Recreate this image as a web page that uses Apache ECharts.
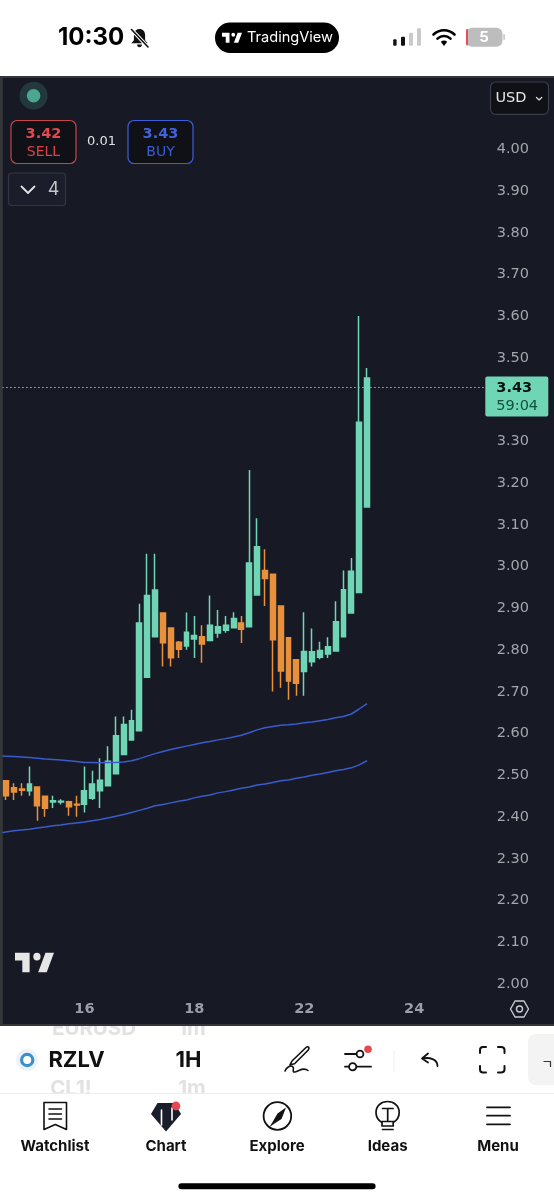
<!DOCTYPE html>
<html>
<head>
<meta charset="utf-8">
<style>html,body{margin:0;padding:0;background:#fff}#main{width:554px;height:1200px}</style>
<script src="https://cdn.jsdelivr.net/npm/echarts@6/dist/echarts.min.js"></script>
</head>
<body>
<div id="main"></div>
<script>
// hourly candles, slot 0 is the one cut off at the left edge (only the averages show)
var open = ['-',2.487,2.470,2.467,2.463,2.472,2.450,2.436,2.436,2.437,2.431,2.431,2.445,2.463,2.475,2.504,2.550,2.585,2.607,2.735,2.832,2.889,2.853,2.819,2.810,2.827,2.832,2.823,2.841,2.848,2.854,2.865,2.856,2.932,2.991,2.982,2.906,2.830,2.777,2.749,2.772,2.783,2.791,2.798,2.832,2.889,2.938,3.143];
var close = ['-',2.451,2.460,2.464,2.479,2.427,2.421,2.439,2.438,2.425,2.429,2.463,2.479,2.488,2.534,2.595,2.622,2.631,2.865,2.931,2.944,2.818,2.782,2.802,2.843,2.835,2.815,2.860,2.856,2.860,2.876,2.850,3.009,3.048,2.972,2.825,2.750,2.726,2.721,2.797,2.796,2.799,2.808,2.868,2.945,2.989,3.346,3.452];
var low = ['-',2.441,2.441,2.451,2.451,2.391,2.401,2.422,2.430,2.403,2.401,2.411,2.441,2.422,2.475,2.504,2.550,2.585,2.607,2.735,2.832,2.761,2.761,2.781,2.801,2.781,2.770,2.823,2.830,2.842,2.854,2.817,2.856,2.932,2.906,2.701,2.710,2.681,2.691,2.691,2.761,2.778,2.781,2.798,2.832,2.889,2.938,3.143];
var high = ['-',2.487,2.481,2.481,2.521,2.472,2.450,2.451,2.443,2.439,2.451,2.521,2.511,2.541,2.570,2.641,2.641,2.657,2.911,3.031,3.031,2.889,2.853,2.822,2.890,2.882,2.860,2.931,2.896,2.882,2.891,2.882,3.232,3.116,3.042,2.982,2.906,2.830,2.777,2.891,2.852,2.820,2.831,2.917,2.991,3.021,3.601,3.476];
var maUpper = [2.547,2.546,2.545,2.544,2.543,2.541,2.539,2.538,2.537,2.535,2.533,2.531,2.531,2.530,2.531,2.531,2.532,2.535,2.540,2.546,2.552,2.557,2.562,2.566,2.570,2.574,2.578,2.581,2.585,2.588,2.592,2.596,2.602,2.609,2.614,2.617,2.620,2.621,2.623,2.626,2.628,2.631,2.634,2.638,2.641,2.647,2.659,2.672];
var maLower = [2.361,2.364,2.367,2.369,2.371,2.374,2.376,2.379,2.381,2.384,2.386,2.388,2.391,2.394,2.398,2.402,2.406,2.411,2.416,2.421,2.427,2.430,2.434,2.438,2.441,2.446,2.450,2.453,2.458,2.461,2.465,2.469,2.472,2.477,2.479,2.483,2.487,2.489,2.493,2.496,2.500,2.503,2.507,2.511,2.514,2.518,2.525,2.535];
var lastPrice = 3.43;
var countdown = '59:04';
var dateSlots = [11, 25, 39, 53];
var dateLabels = ['16', '18', '22', '24'];
var yTicks = ['2.00','2.10','2.20','2.30','2.40','2.50','2.60','2.70','2.80','2.90','3.00','3.10','3.20','3.30','3.50','3.60','3.70','3.80','3.90','4.00'];

var SLOTS = 63;
var categories = [];
for (var i = 0; i < SLOTS; i++) {
  var at = dateSlots.indexOf(i);
  categories.push(at >= 0 ? dateLabels[at] : ' ' + i);
}
var candles = open.map(function (o, i) { return [o, close[i], low[i], high[i]]; });

var GREEN = '#6fd5b5', ORANGE = '#e8903c', BLUE = '#3a5bcb', DARK = '#171a25', FONT = 'Inter', WIDE = '"DejaVu Sans"';

// the graphic component has no plain path type, so register each icon path as a shape
var shapeCount = 0;
function pathType(d) {
  var name = 'iconPath' + (shapeCount++);
  echarts.graphic.registerShape(name, echarts.graphic.extendPath(d));
  return name;
}

// little helpers for the phone app chrome around the chart
function rect(x, y, w, h, fill, r, stroke, z) {
  return { type: 'rect', z: z == null ? 10 : z, shape: { x: x, y: y, width: w, height: h, r: r || 0 },
    style: { fill: fill, stroke: stroke || null, lineWidth: stroke ? 1.2 : 0 } };
}
function txt(s, x, y, font, fill, z, family) {
  return { type: 'text', z: z == null ? 11 : z,
    style: { text: s, x: x, y: y, font: font + ' ' + (family || FONT), fill: fill, align: 'center', verticalAlign: 'middle' } };
}
function stroke(d, color, w, z) {
  return { type: pathType(d), z: z == null ? 11 : z,
    style: { fill: null, stroke: color, lineWidth: w || 1.8, lineCap: 'round', lineJoin: 'round' } };
}
function solid(d, color) {
  return { type: pathType(d), z: 11, style: { fill: color } };
}
function circle(cx, cy, r, fill, line, w) {
  return { type: 'circle', z: 11, shape: { cx: cx, cy: cy, r: r },
    style: { fill: fill, stroke: line || null, lineWidth: w || 0 } };
}
function logo(x, y, w, h, color) {
  // source path spans x 2..34, y 6..21
  var sx = w / 32, sy = h / 15;
  return { type: pathType('M14 6H2V12H8V21H14V6ZM28 21H21L27 6H34L28 21ZM20 12A3 3 0 1 0 20 6A3 3 0 0 0 20 12Z'), z: 11,
    x: x - 2 * sx, y: y - 6 * sy, scaleX: sx, scaleY: sy, style: { fill: color } };
}

var chrome = [
  // ghost rows behind the toolbar, cut off by the panel and the tab bar
  txt('EURUSD', 94, 1029, 'bold 20.5px', '#e2e2e2', -3),
  txt('1m', 192, 1029, 'bold 20.5px', '#e2e2e2', -3),
  txt('CL1!', 71, 1089, 'bold 20.5px', '#e2e2e2', -3),
  txt('1m', 192, 1089, 'bold 20.5px', '#e2e2e2', -3),
  // chart panel
  rect(0, 76, 554, 950, '#35363a', 0, null, -2),
  rect(2.5, 78, 551.5, 946, DARK, 0, null, -1),
  rect(0, 78, 2.5, 946, '#35363a', 0, null, 9),

  // status bar
  txt('10:30', 91, 38, 'bold 24px', '#000'),
  solid('M139.5 29c-3.4 0-5.6 2.6-5.6 6v5.2l-2.6 3.1h16.4l-2.6-3.1V35c0-3.4-2.2-6-5.6-6zM137 44.6h5c-.2 1.7-1.2 2.7-2.5 2.7s-2.3-1-2.5-2.7z', '#111'),
  stroke('M131 29l17 18', '#fff', 3.4),
  stroke('M131.5 29.5l16.5 17.5', '#111', 1.6),
  rect(215, 22.5, 124, 30.5, '#000', 15.2),
  logo(222, 32.7, 20, 10, '#fff'),
  txt('TradingView', 290, 38, '400 14.6px', '#fff'),
  rect(393.2, 39.3, 3.4, 6.4, '#111', 1),
  rect(401, 36.7, 4, 9, '#111', 1),
  rect(409, 32.7, 4, 13, '#c9c9c9', 1),
  rect(417, 28.3, 4, 17.4, '#c9c9c9', 1),
  stroke('M433.5 34.5c6-5.6 15-5.6 21 0', '#000', 2.6),
  stroke('M437.5 38.6c3.8-3.4 9.2-3.4 13 0', '#000', 2.6),
  solid('M440.8 41.8c2-1.6 4.4-1.6 6.4 0L444 46z', '#000'),
  rect(466, 27.8, 36.5, 19, '#bdbdbd', 6),
  rect(466, 29, 2, 16.5, '#e2505a', 1),
  rect(503.2, 34, 1.8, 6, '#c9c9c9', 1),
  txt('5', 484, 37.8, 'bold 15px', '#fff'),

  // top left of the panel
  circle(33.6, 95.7, 14, '#22383d'),
  circle(33.6, 95.7, 6.8, '#4aa78f'),
  rect(490.5, 82, 58, 32.3, '#101116', 5, '#3a3d46'),
  txt('USD', 511, 98, '14.5px', '#e6e6e6', 11, WIDE),
  stroke('M536.5 97.5l2.6 2.4 2.6-2.4', '#dcdcdc', 1.3),
  rect(11, 120.5, 65, 43, '#101116', 6, '#c4454c'),
  txt('3.42', 43.5, 134, 'bold 14.5px', '#e0494f', 11, WIDE),
  txt('SELL', 43.5, 152.5, '14px', '#d8444a', 11, WIDE),
  txt('0.01', 101.5, 142, '13px', '#dfe0e2', 11, WIDE),
  rect(128, 120.5, 65, 43, '#101116', 6, '#3a5fdc'),
  txt('3.43', 160.5, 134, 'bold 14.5px', '#3f63e0', 11, WIDE),
  txt('BUY', 160.5, 152.5, '14px', '#3a5bd4', 11, WIDE),
  rect(8.5, 173, 57, 32.5, '#1b1e2a', 3, '#33363f'),
  stroke('M21.5 186.5l6.5 6.5 6.5-6.5', '#e2e2e2', 1.8),
  txt('4', 53.6, 189.5, '18px', '#c4c5c8'),

  // bottom of the panel
  logo(15, 952.7, 39, 19.6, '#e6e6e6'),
  stroke('M510.5 1009l4.5-8h9l4.5 8-4.5 8h-9z', '#c9cbd1', 1.4),
  { type: 'circle', z: 11, shape: { cx: 519.5, cy: 1009, r: 3 }, style: { fill: null, stroke: '#c9cbd1', lineWidth: 1.4 } },

  // symbol toolbar
  circle(27.2, 1060, 11, '#ebf2f8'),
  circle(27.2, 1060, 5.6, '#fff', '#3b8ec6', 3.2),
  txt('RZLV', 76.5, 1060, 'bold 22px', '#111'),
  txt('1H', 188.5, 1060, 'bold 22px', '#111'),
  stroke('M292 1061l14-13.5c1.2-1.2 3-1 3 .6 0 1-.3 1.5-1 2.2l-13.5 13.5-4.5 1zM285 1071c1-3.5 6-6.5 8-4 1.5 2-1.5 5.5 2 5 4-.5 8-5.5 13-1.5', '#111', 1.6),
  stroke('M345 1054h11', '#111', 1.8),
  { type: 'circle', z: 11, shape: { cx: 360, cy: 1054, r: 3.4 }, style: { fill: '#fff', stroke: '#111', lineWidth: 1.8 } },
  stroke('M345 1066.7h4M356.5 1066.7H371', '#111', 1.8),
  { type: 'circle', z: 11, shape: { cx: 352.7, cy: 1066.7, r: 3.6 }, style: { fill: '#fff', stroke: '#111', lineWidth: 1.8 } },
  circle(368, 1049.3, 3.8, '#e5484e'),
  rect(393.6, 1050, 1, 22, '#eeeeee'),
  stroke('M428 1053.5l-6 5 6 4M422.5 1058.5c7-1.5 15 .5 15 7.5', '#111', 1.8),
  stroke('M480 1053v-3c0-2 1-3 3-3h3M498 1047h3c2 0 3.5 1 3.5 3v3M504.5 1066v3.5c0 2-1.5 3-3.5 3h-3M486 1072.5h-3c-2 0-3-1-3-3v-3.5', '#111', 2),
  rect(528, 1034, 40, 51, '#f3f3f4', 8),
  stroke('M544 1061.5h6.5v5', '#333', 1.2),

  // tab bar
  rect(0, 1093, 554, 107, '#fff', 0, null, -1),
  rect(0, 1093, 554, 1, '#efefef', 0, null, -1),
  stroke('M44 1102.5h22.5v27l-11.2-5-11.3 5zM49 1109h12.5M49 1114h12.5M49 1119h12.5', '#111', 1.6),
  txt('Watchlist', 55, 1146.5, 'bold 15px', '#111'),
  solid('M157.5 1103h17l6.5 11-15 17.5-15-17.5z', '#1a1d2a'),
  stroke('M161.5 1110v15M172 1108v12', '#fff', 1.6),
  rect(159.5, 1113, 4, 7, '#fff', 0),
  rect(170, 1111, 4, 5, '#fff', 0),
  circle(176, 1106, 4.4, '#e5484e'),
  txt('Chart', 166, 1146.5, 'bold 15px', '#111'),
  { type: 'circle', z: 11, shape: { cx: 277.4, cy: 1116, r: 13.8 }, style: { fill: null, stroke: '#111', lineWidth: 1.8 } },
  solid('M286 1107.5l-4.5 11.5-8.5 5.5-4 3 3-4.5 5.5-9.5z', '#111'),
  txt('Explore', 277, 1146.5, 'bold 15px', '#111'),
  stroke('M382 1122.5c-3.5-2-6-5.5-6-10 0-6.5 5-11 11.6-11s11.6 4.5 11.6 11c0 4.5-2.5 8-6 10v3.5h-11.2zM382.5 1129.5h10.5M382.5 1108.5h10.5M387.7 1108.5v13M382 1121.5h11.5', '#111', 1.7),
  txt('Ideas', 387.6, 1146.5, 'bold 15px', '#111'),
  stroke('M487 1107.3h23M487 1115.7h23M487 1124.3h23', '#111', 1.8),
  txt('Menu', 498, 1146.5, 'bold 15px', '#111'),
  rect(178.4, 1183.3, 197.2, 6, '#000', 3)
];

var myChart = echarts.init(document.getElementById('main'));
myChart.setOption({
  animation: false,
  backgroundColor: '#fff',
  textStyle: { fontFamily: FONT },
  grid: { left: -5.85, right: 65.3, top: 66, bottom: 174.3, outerBoundsMode: 'none' },
  xAxis: {
    type: 'category',
    data: categories,
    axisLine: { show: false },
    axisTick: { show: false },
    axisLabel: {
      inside: true, margin: 9, interval: 0, hideOverlap: false,
      color: '#9a9dab', fontSize: 14.5, fontWeight: 'bold', fontFamily: WIDE,
      formatter: function (v) { return dateLabels.indexOf(v) >= 0 ? v : ''; }
    }
  },
  yAxis: {
    type: 'value',
    position: 'right',
    min: 1.9, max: 4.2, interval: 0.1,
    splitLine: { show: false },
    axisLine: { show: false },
    axisTick: { show: false },
    axisLabel: {
      margin: 8, color: '#a3a5ab', fontSize: 14.5, fontFamily: WIDE, padding: [7, 0, 0, 0],
      formatter: function (v) { var s = v.toFixed(2); return yTicks.indexOf(s) >= 0 ? s : ''; }
    }
  },
  series: [
    { type: 'line', data: maUpper, showSymbol: false, symbol: 'none', lineStyle: { color: BLUE, width: 1.5 } },
    { type: 'line', data: maLower, showSymbol: false, symbol: 'none', lineStyle: { color: BLUE, width: 1.5 } },
    {
      type: 'candlestick',
      data: candles,
      barWidth: 5.4,
      itemStyle: { color: GREEN, color0: ORANGE, borderColor: GREEN, borderColor0: ORANGE, borderWidth: 1.5 },
      markLine: {
        silent: true,
        symbol: 'none',
        lineStyle: { color: GREEN, type: [1.5, 2.5], width: 1.2 },
        data: [{ yAxis: lastPrice }],
        label: {
          position: 'end', distance: 0, offset: [-3.4, 9.2],
          formatter: '{p|' + lastPrice.toFixed(2) + '}\n{t|' + countdown + '}',
          backgroundColor: GREEN, borderRadius: 2,
          width: 52, padding: [2, 0, 1, 11], align: 'left',
          rich: {
            p: { color: '#08120f', fontSize: 14.5, fontWeight: 'bold', lineHeight: 19, fontFamily: WIDE },
            t: { color: '#11503f', fontSize: 14.5, lineHeight: 18, fontFamily: WIDE }
          }
        }
      }
    }
  ],
  graphic: { elements: chrome }
});
</script>
</body>
</html>
